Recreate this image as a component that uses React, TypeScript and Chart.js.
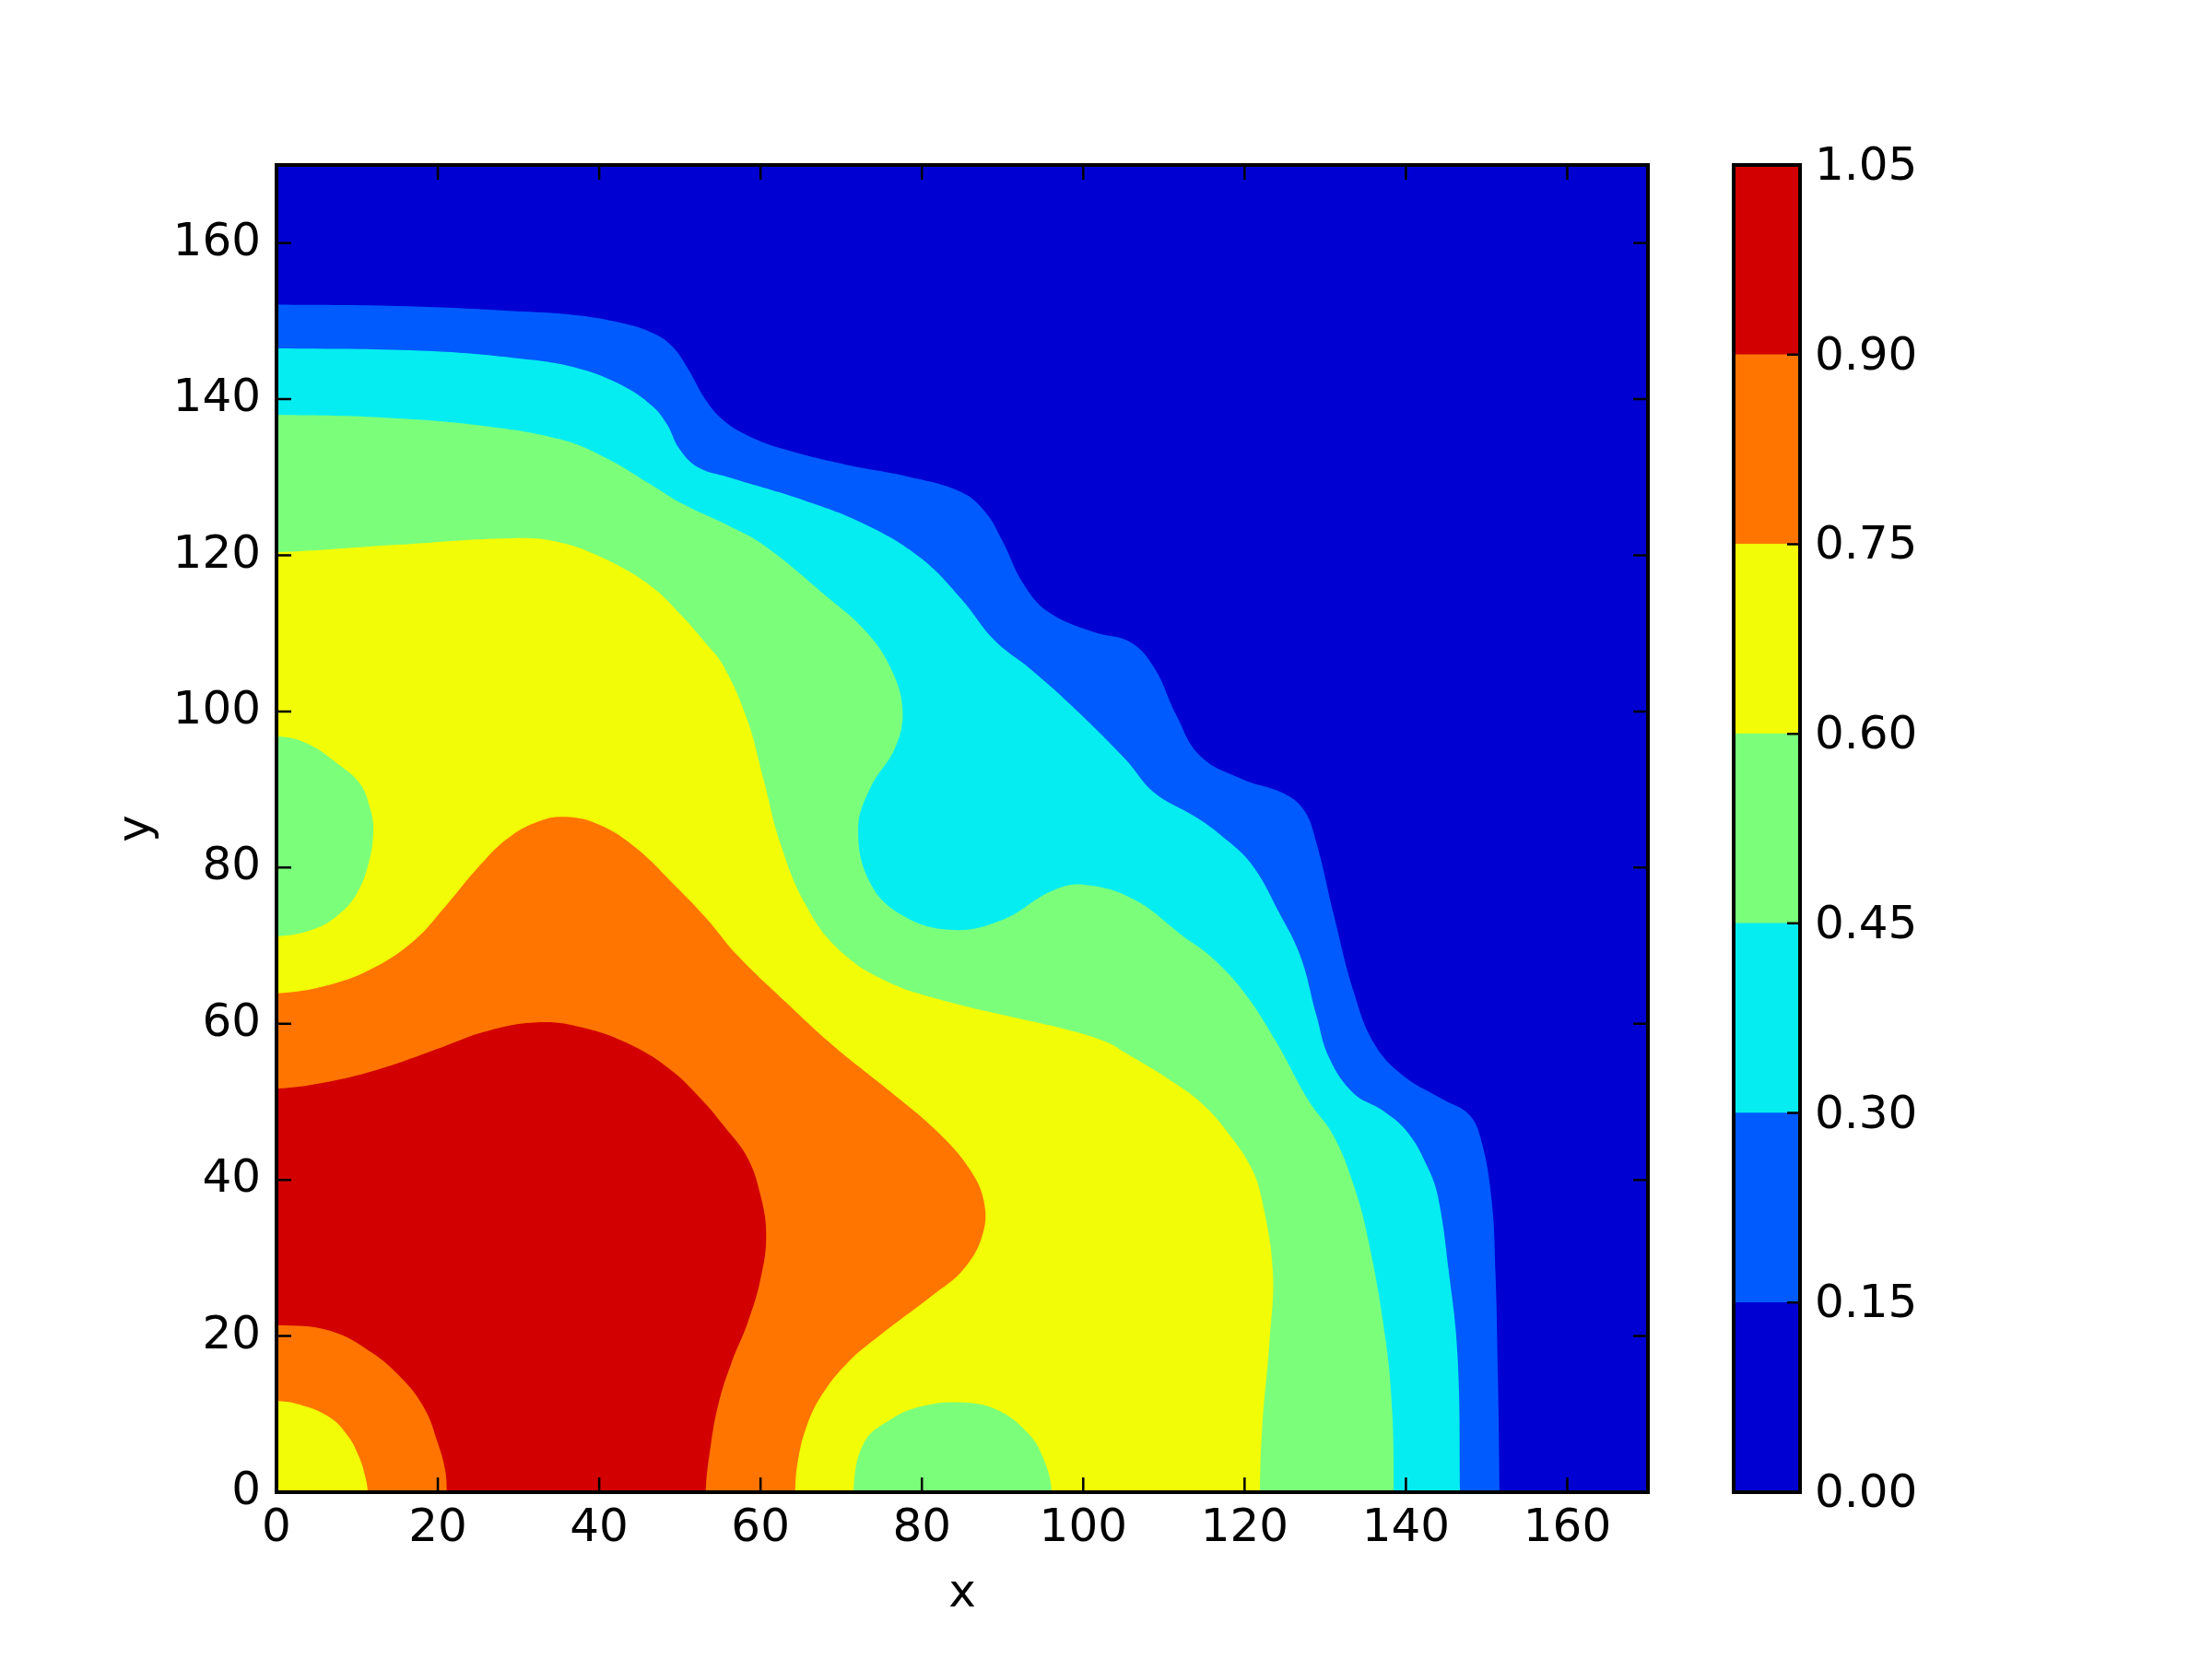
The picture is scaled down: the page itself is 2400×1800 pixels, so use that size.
import React, { useEffect, useRef } from 'react';
import { Chart, registerables } from 'chart.js';

Chart.register(...registerables);

// ---------- data ----------
const levels = [0, 0.15, 0.3, 0.45, 0.6, 0.75, 0.9, 1.05];
const levelColors = ['#0000d2', '#005bff', '#06edf1', '#7bff7b', '#f1fc06', '#ff7500', '#d20000'];
const xTickValues = [0, 20, 40, 60, 80, 100, 120, 140, 160];
const yTickValues = [0, 20, 40, 60, 80, 100, 120, 140, 160];
const axisMin = 0;
const axisMax = 170;

// contour boundaries, as [x, y]
const contour015: [number, number][] = [
  [0, 152.1], [16, 151.9], [29.3, 151.3], [36.9, 150.8], [42.6, 149.8], [46.8, 148.4], [49.1, 146.7],
  [51, 143.9], [53.2, 139.9], [55.5, 137.2], [58.5, 135.3], [62.9, 133.6], [70.6, 131.6], [78.2, 130.1],
  [84.9, 128.1], [87.9, 125.5], [90, 121.8], [92.5, 116.5], [95.6, 112.8], [101.2, 110.2], [105.8, 108.9],
  [108.8, 105.6], [111.5, 99.6], [114.5, 94.3], [119.8, 91.3], [124.9, 89.5], [127.4, 87.3], [128.9, 83.2],
  [131, 74.2], [133.5, 64.2], [136.1, 57.4], [139.6, 53.4], [144.8, 50.2], [147.8, 48.4], [149.3, 45.2],
  [150.6, 37.7], [151.1, 28], [151.4, 15], [151.6, 0],
];
const contour030: [number, number][] = [
  [0, 146.5], [17.9, 146.2], [29.3, 145.3], [36.9, 144.1], [42.6, 141.9], [46.5, 139.2], [48.4, 136.8],
  [49.9, 133.7], [52.2, 131.3], [56, 130], [65.5, 127], [73.1, 123.9], [79.8, 119.7], [84.9, 114.4],
  [89, 109.1], [93.5, 105.4], [98.6, 100.7], [105.3, 93.8], [108.8, 89.6], [113.9, 86.5], [117, 84.2],
  [120.8, 80.5], [124.3, 74.2], [126.9, 68.7], [128.9, 61.1], [130.5, 55.6], [133.5, 51.1], [137.1, 48.9],
  [140.2, 46.1], [142.7, 41.6], [144, 37.7], [145.3, 28.4], [146.4, 17.5], [146.7, 0],
];
const contour045: [number, number][] = [
  [0, 138], [14.1, 137.6], [25.5, 136.6], [35, 134.9], [40.8, 132.5], [46.5, 129], [50.3, 126.6],
  [56, 123.8], [60.4, 121.3], [68, 114.9], [73.1, 110.2], [76.2, 105.4], [77.6, 100.2], [76.7, 95.4],
  [73.6, 90.2], [72.1, 84.9], [73.6, 78], [77.7, 73.8], [83.8, 72], [90, 73.3], [96.1, 77], [100.2, 77.8],
  [106.3, 75.9], [112.4, 71.2], [115.7, 68.7], [119.8, 64.2], [123.8, 57.9], [127.9, 50.2], [131, 45.7],
  [133.5, 39.4], [135.4, 32], [137.5, 19.4], [138.3, 10.3], [138.5, 0],
];
const contour060: [number, number][] = [
  [0, 120.4], [14.1, 121.3], [29.3, 122.2], [35, 121.7], [40.8, 119.5], [46.5, 116], [50.2, 112.3],
  [53, 109], [55.3, 106], [58.3, 99.1], [60.4, 91.2], [62.4, 83.3], [65.5, 75.4], [69.6, 69.6],
  [75.7, 65.4], [83.3, 62.8], [90.2, 61.1], [97.8, 59.3], [102.8, 57.7], [105.5, 56.1], [110.6, 52.9],
  [114.7, 49.8], [118.2, 45.7], [120.8, 41.6], [122.1, 37.7], [123.5, 28.4], [123.1, 19.4], [122.2, 8.5],
  [121.9, 0],
];
const contour075: [number, number][] = [
  [0, 63.9], [6.6, 65], [12.1, 67.2], [17.1, 70.7], [20.9, 75], [24.8, 79.8], [28.6, 83.7], [32.4, 85.9],
  [35.8, 86.5], [40, 85.5], [44.6, 82.5], [49.5, 77.6], [53.3, 73.5], [57.1, 68.8], [63, 62.9],
  [68.9, 57.3], [76.1, 51.3], [82, 46.1], [85.9, 41.4], [87.7, 37.2], [87.5, 32.9], [85.2, 28.6],
  [81.3, 25.2], [74.8, 20.1], [70.8, 16.6], [67.5, 12.3], [65.6, 8.1], [64.6, 3.8], [64.3, 0],
];
const contour090: [number, number][] = [
  [0, 51.7], [6.6, 52.6], [13.1, 54.3], [19.7, 56.7], [26.2, 59.1], [32.8, 60.2], [38, 59.5], [43.3, 57.6],
  [48.5, 54.4], [52.5, 50.5], [55.7, 46.6], [58.4, 42.8], [60, 38], [60.7, 32.9], [60, 27.3], [58.4, 21.7],
  [56.4, 16.6], [54.8, 11.4], [53.8, 5.8], [53.2, 0],
];
// islands of lower values
const islandLeft045: [number, number][] = [
  [0, 96.8], [3.8, 95.9], [7.6, 93.3], [10.3, 90.8], [11.6, 87.6], [12, 84.7], [11.4, 80.5], [9.9, 76.6],
  [7.6, 73.9], [4.6, 72.1], [0, 71.2],
];
const islandBottom045: [number, number][] = [
  [71.5, 0], [72.8, 6.3], [76.1, 9.3], [80, 11], [84.6, 11.5], [89.2, 10.6], [93.1, 7.6], [95.1, 4.2], [96.1, 0],
];
const cornerDip075: [number, number][] = [
  [0, 21.4], [6.6, 20.7], [11.8, 17.9], [15.7, 14.4], [18.4, 10.6], [20, 6.3], [20.9, 2.9], [21.1, 0],
];
const cornerDip060: [number, number][] = [
  [0, 11.66], [2.6, 11.3], [6.6, 9.6], [8.85, 7.2], [10.2, 4.6], [11, 2], [11.3, 0],
];

// paint order (bottom first) and colour band index
const regions: { curve: [number, number][]; band: number }[] = [
  { curve: contour015, band: 1 },
  { curve: contour030, band: 2 },
  { curve: contour045, band: 3 },
  { curve: contour060, band: 4 },
  { curve: contour075, band: 5 },
  { curve: contour090, band: 6 },
  { curve: islandLeft045, band: 3 },
  { curve: islandBottom045, band: 3 },
  { curve: cornerDip075, band: 5 },
  { curve: cornerDip060, band: 4 },
];

const OUT = 10;
function closeShape(curve: [number, number][]) {
  const pts = curve.map(([x, y]) => ({ x, y }));
  const first = pts[0];
  const last = pts[pts.length - 1];
  const pre = first.x <= axisMin ? { x: axisMin - OUT, y: first.y } : { x: first.x, y: axisMin - OUT };
  const post = last.x <= axisMin ? { x: axisMin - OUT, y: last.y } : { x: last.x, y: axisMin - OUT };
  const res = [pre, ...pts, post];
  if (pre.x < axisMin && post.y < axisMin) res.push({ x: axisMin - OUT, y: axisMin - OUT });
  return res;
}

const FONT = "'DejaVu Sans', sans-serif";

const bgPlugin = {
  id: 'bgBand',
  beforeDatasetsDraw(chart: any) {
    const { ctx, chartArea: a } = chart;
    ctx.save();
    ctx.fillStyle = levelColors[0];
    ctx.fillRect(a.left, a.top, a.right - a.left, a.bottom - a.top);
    ctx.restore();
  },
};

const framePlugin = {
  id: 'frame',
  afterDraw(chart: any) {
    const { ctx, chartArea: a, scales } = chart;
    ctx.save();
    ctx.strokeStyle = '#000';
    ctx.lineWidth = 2.5;
    ctx.beginPath();
    xTickValues.forEach((v) => {
      const p = scales.x.getPixelForValue(v);
      ctx.moveTo(p, a.bottom);
      ctx.lineTo(p, a.bottom - 16);
      ctx.moveTo(p, a.top);
      ctx.lineTo(p, a.top + 16);
    });
    yTickValues.forEach((v) => {
      const p = scales.y.getPixelForValue(v);
      ctx.moveTo(a.left, p);
      ctx.lineTo(a.left + 16, p);
      ctx.moveTo(a.right, p);
      ctx.lineTo(a.right - 16, p);
    });
    ctx.stroke();
    ctx.lineWidth = 4;
    ctx.strokeRect(a.left, a.top, a.right - a.left, a.bottom - a.top);
    ctx.restore();
  },
};

const cbFramePlugin = {
  id: 'cbFrame',
  afterDraw(chart: any) {
    const { ctx, chartArea: a, scales } = chart;
    ctx.save();
    ctx.strokeStyle = '#000';
    ctx.lineWidth = 2.5;
    ctx.beginPath();
    levels.forEach((v) => {
      const p = scales.y.getPixelForValue(v);
      ctx.moveTo(a.right, p);
      ctx.lineTo(a.right - 14, p);
    });
    ctx.stroke();
    ctx.lineWidth = 4;
    ctx.strokeRect(a.left, a.top, a.right - a.left, a.bottom - a.top);
    ctx.restore();
  },
};

export default function App() {
  const mainRef = useRef<HTMLCanvasElement>(null);
  const barRef = useRef<HTMLCanvasElement>(null);

  useEffect(() => {
    Chart.defaults.font.family = FONT;
    Chart.defaults.color = '#000';
    const n = regions.length;
    const datasets = regions.map((r, i) => ({
      data: closeShape(r.curve),
      showLine: true,
      fill: 'shape',
      backgroundColor: levelColors[r.band],
      borderColor: 'rgba(0,0,0,0)',
      borderWidth: 0,
      pointRadius: 0,
      pointHoverRadius: 0,
      tension: 0.4,
      capBezierPoints: false,
      order: n - i,
    }));

    const main = new Chart(mainRef.current as HTMLCanvasElement, {
      type: 'scatter',
      data: { datasets: datasets as any },
      options: {
        responsive: false,
        animation: false,
        events: [],
        layout: { padding: { left: 0, top: 179, right: 612, bottom: 0 } },
        plugins: { legend: { display: false }, tooltip: { enabled: false } },
        scales: {
          x: {
            type: 'linear',
            position: 'bottom',
            min: axisMin,
            max: axisMax,
            afterBuildTicks: (s: any) => {
              s.ticks = xTickValues.map((value) => ({ value }));
            },
            afterFit: (s: any) => {
              s.height = 181;
            },
            grid: { display: false },
            border: { display: false },
            ticks: { padding: 2, font: { size: 50, family: FONT }, color: '#000', maxRotation: 0, autoSkip: false },
            title: { display: true, text: 'x', font: { size: 50, family: FONT }, color: '#000', padding: { top: 0, bottom: 40 } },
          },
          y: {
            type: 'linear',
            position: 'left',
            min: axisMin,
            max: axisMax,
            afterBuildTicks: (s: any) => {
              s.ticks = yTickValues.map((value) => ({ value }));
            },
            afterFit: (s: any) => {
              s.width = 300;
            },
            grid: { display: false },
            border: { display: false },
            ticks: { padding: 9, font: { size: 50, family: FONT }, color: '#000', autoSkip: false },
            title: { display: true, text: 'y', font: { size: 50, family: FONT }, color: '#000', padding: { top: 119, bottom: 0 } },
          },
        },
      } as any,
      plugins: [bgPlugin, framePlugin],
    });

    const bar = new Chart(barRef.current as HTMLCanvasElement, {
      type: 'bar',
      data: {
        labels: ['levels'],
        datasets: levelColors.map((c, i) => ({
          data: [levels[i + 1] - levels[i]],
          backgroundColor: c,
          borderWidth: 0,
          barPercentage: 1,
          categoryPercentage: 1,
        })),
      },
      options: {
        responsive: false,
        animation: false,
        events: [],
        layout: { padding: { left: 1881, top: 179, right: 247, bottom: 181 } },
        plugins: { legend: { display: false }, tooltip: { enabled: false } },
        scales: {
          x: { display: false, stacked: true },
          y: {
            stacked: true,
            position: 'right',
            min: levels[0],
            max: levels[levels.length - 1],
            afterBuildTicks: (s: any) => {
              s.ticks = levels.map((value) => ({ value }));
            },
            afterFit: (s: any) => {
              s.width = 200;
            },
            grid: { display: false },
            border: { display: false },
            ticks: {
              padding: 8,
              labelOffset: 3,
              font: { size: 50, family: FONT },
              color: '#000',
              autoSkip: false,
              callback: (v: any) => Number(v).toFixed(2),
            },
          },
        },
      } as any,
      plugins: [cbFramePlugin],
    });

    return () => {
      main.destroy();
      bar.destroy();
    };
  }, []);

  return (
    <div style={{ position: 'absolute', left: 0, top: 0, width: 2400, height: 1800, background: '#fff' }}>
      <canvas ref={mainRef} width={2400} height={1800} style={{ position: 'absolute', left: 0, top: 0 }} />
      <canvas ref={barRef} width={2400} height={1800} style={{ position: 'absolute', left: 0, top: 0 }} />
    </div>
  );
}
